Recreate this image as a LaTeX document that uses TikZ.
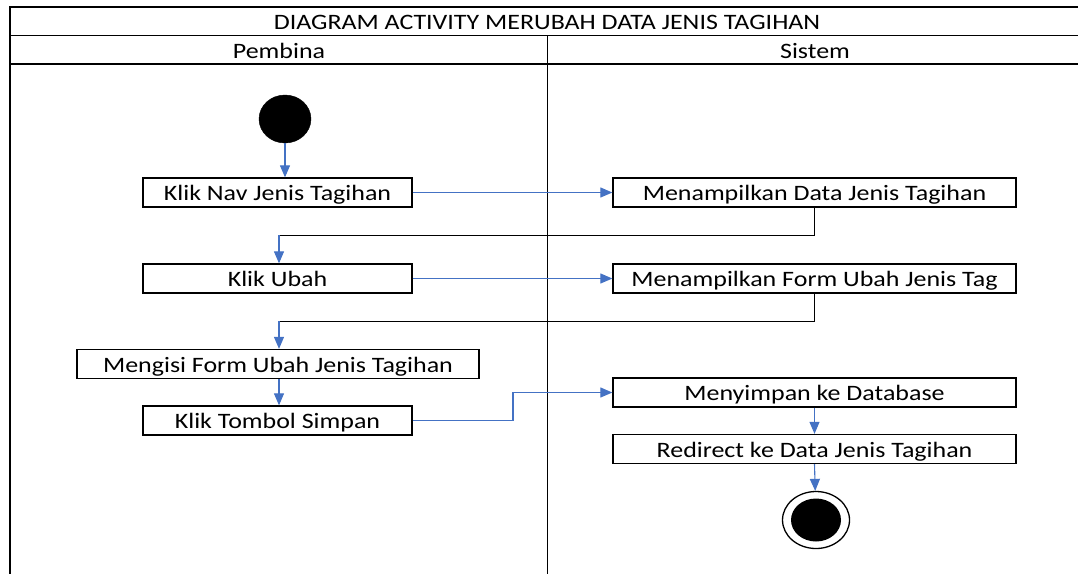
\documentclass[tikz,border=0pt]{standalone}
\usepackage{fontspec}
\setmainfont{Carlito}[FakeStretch=1.18]
\usepackage{xcolor}
\usetikzlibrary{arrows.meta, calc, positioning, shapes.geometric}
\definecolor{flowblue}{HTML}{4472C4}

\begin{document}
\begin{tikzpicture}[x=1pt, y=-1pt,
  actbox/.style={draw=black, line width=1.3pt, fill=white, minimum height=29pt,
                 inner sep=0pt, text height=16pt, text depth=0pt,
                 font=\fontsize{22}{26}\selectfont},
  lanetext/.style={font=\fontsize{22}{26}\selectfont, text height=16pt, text depth=0pt},
  flow/.style={-{Triangle[length=12pt, width=10pt]}, flowblue, line width=1.1pt},
  backline/.style={black, line width=1pt}]
\useasboundingbox (0,0) rectangle (1078,574);
% Swimlane frame
\draw[line width=1.3pt] (1078,7) -- (10,7) -- (10,574);
\draw[line width=1pt] (10,35) -- (1078,35);
\draw[line width=1.3pt] (10,64) -- (1078,64);
\draw[line width=1pt] (547,35) -- (547,574);
\node[lanetext] (title) at (547,21) {DIAGRAM ACTIVITY MERUBAH DATA JENIS TAGIHAN};
\node[lanetext] (lane-pembina) at (279,50) {Pembina};
\node[lanetext] (lane-sistem) at (815,50) {Sistem};
% Start and end
\node[draw, fill=black, ellipse, minimum width=52pt, minimum height=48pt, inner sep=0pt] (start) at (285,119) {};
\node[draw, line width=1.3pt, fill=white, ellipse, minimum width=67pt, minimum height=57pt, inner sep=0pt] (end) at (816,520) {};
\node[fill=black, ellipse, minimum width=50pt, minimum height=43pt, inner sep=0pt] (end-dot) at (816,520) {};
% Pembina actions
\node[actbox, minimum width=269pt] (klik-nav) at (277.5,192.5) {Klik Nav Jenis Tagihan};
\node[actbox, minimum width=269pt] (klik-ubah) at (277.5,278.5) {Klik Ubah};
\node[actbox, minimum width=402pt] (isi-form) at (278,364) {Mengisi Form Ubah Jenis Tagihan};
\node[actbox, minimum width=269pt] (klik-simpan) at (277.5,420.5) {Klik Tombol Simpan};
% Sistem actions
\node[actbox, minimum width=403pt] (tampil-data) at (814.5,192.5) {Menampilkan Data Jenis Tagihan};
\node[actbox, minimum width=403pt] (tampil-form) at (814.5,278.5) {Menampilkan Form Ubah Jenis Tag};
\node[actbox, minimum width=403pt] (simpan-db) at (814.5,392.5) {Menyimpan ke Database};
\node[actbox, minimum width=403pt] (redirect) at (814.5,449) {Redirect ke Data Jenis Tagihan};
% Bend points
\coordinate (bend-a) at (279,235);
\coordinate (bend-b) at (279,321);
\coordinate (bend-c) at (513,392.5);
% Flows
\draw[flow] (start) -- (start |- klik-nav.north);
\draw[flow] (klik-nav) -- (tampil-data);
\draw[backline] (tampil-data.south) |- (bend-a);
\draw[flow] (bend-a) -- (bend-a |- klik-ubah.north);
\draw[flow] (klik-ubah) -- (tampil-form);
\draw[backline] (tampil-form.south) |- (bend-b);
\draw[flow] (bend-b) -- (bend-b |- isi-form.north);
\draw[flow] (isi-form.south -| bend-b) -- (bend-b |- klik-simpan.north);
\draw[flow] (klik-simpan.east) -| (bend-c) -- (simpan-db.west);
\draw[flow] (simpan-db.south) -- (redirect.north);
\draw[flow] (redirect.south) -- (end);
\end{tikzpicture}
\end{document}
